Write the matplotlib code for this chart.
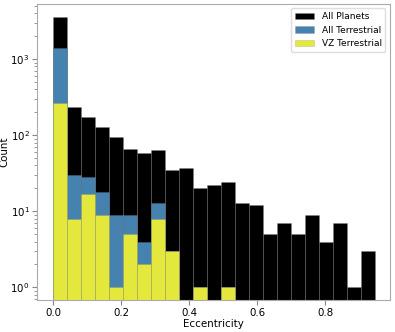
import numpy as np
import matplotlib
matplotlib.use("Agg")
import matplotlib.pyplot as plt

# histogram bin edges (eccentricity) and counts
bin_edges = np.linspace(0.0, 0.946, 24)
all_planets = [3570, 238, 176, 127, 94, 66, 58, 63, 35, 37, 20, 22, 24, 13, 12, 5, 7, 5, 9, 4, 7, 1, 3]
all_terrestrial = [1420, 30, 28, 18, 9, 9, 4, 13, 3, 0, 1, 0, 1, 0, 0, 0, 0, 0, 0, 0, 0, 0, 0]
vz_terrestrial = [264, 8, 17, 9, 1, 5, 2, 8, 3, 0, 1, 0, 1, 0, 0, 0, 0, 0, 0, 0, 0, 0, 0]

centers = (bin_edges[:-1] + bin_edges[1:]) / 2

plt.rcParams["font.size"] = 7.4
fig = plt.figure(figsize=(3.95, 3.32), dpi=100)
ax = fig.add_axes([0.094, 0.096, 0.893, 0.892])

edge = (0.5, 0.5, 0.5, 0.35)
ax.hist(centers, bins=bin_edges, weights=all_planets, color="black", edgecolor=edge, linewidth=0.5, label="All Planets")
ax.hist(centers, bins=bin_edges, weights=all_terrestrial, color="#4682b0", edgecolor=edge, linewidth=0.5, label="All Terrestrial")
ax.hist(centers, bins=bin_edges, weights=vz_terrestrial, color="#e5e83c", edgecolor=edge, linewidth=0.5, label="VZ Terrestrial")

ax.set_yscale("log")
ax.set_ylim(0.68, 5300)
ax.set_xlim(-0.047, 0.99)
ax.set_xticks([0.0, 0.2, 0.4, 0.6, 0.8])
ax.set_xlabel("Eccentricity", labelpad=1)
ax.set_ylabel("Count")
ax.yaxis.set_label_coords(-0.08, 0.5)

for s in ax.spines.values():
    s.set_color("#aaaaaa")
ax.tick_params(which="both", color="#888888", pad=2)

leg = ax.legend(loc="upper right", fontsize=6.5, framealpha=1, handlelength=2.2)
leg.get_frame().set_edgecolor("#dddddd")

fig.savefig("out.png", dpi=100)
